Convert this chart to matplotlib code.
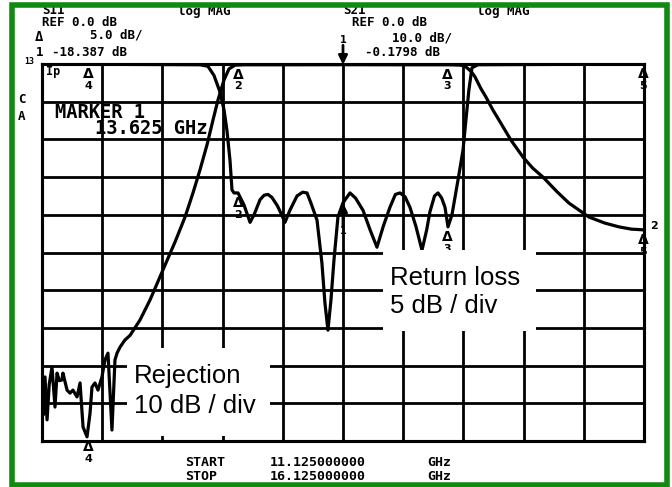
import numpy as np
import matplotlib
matplotlib.use("Agg")
import matplotlib.pyplot as plt
from matplotlib.patches import Rectangle

# ---------------- data ----------------
f_start, f_stop = 11.125, 16.125

# S21 (rejection), dB, 10 dB/div
s21_f = [11.125, 11.138, 11.150, 11.167, 11.185, 11.208, 11.233, 11.250, 11.270, 11.291,
         11.299, 11.333, 11.358, 11.382, 11.416, 11.441, 11.466, 11.499, 11.524, 11.540,
         11.565, 11.590, 11.623, 11.648, 11.673, 11.706, 11.731, 11.748, 11.773, 11.814,
         11.856, 11.939, 12.022, 12.130, 12.230, 12.313, 12.379, 12.437, 12.495, 12.545,
         12.587, 12.637, 12.678, 12.728, 12.811, 13.200, 13.625, 14.100, 14.500, 14.600,
         14.640, 14.690, 14.721, 14.770, 14.813, 14.870, 14.921, 15.020, 15.120, 15.200,
         15.286, 15.400, 15.502, 15.668, 15.800, 15.917, 16.020, 16.125]
s21_db = [-89.0, -93.0, -83.0, -94.4, -85.0, -80.4, -91.0, -82.0, -84.0, -83.8,
          -82.0, -86.5, -87.3, -86.5, -88.3, -84.6, -96.3, -98.9, -92.6, -85.7,
          -84.6, -86.5, -83.0, -78.5, -76.7, -97.1, -78.5, -76.7, -75.1, -73.2,
          -72.0, -67.9, -62.6, -54.6, -47.2, -40.6, -34.2, -28.1, -21.5, -14.9,
          -9.5, -4.2, -1.3, -0.3, -0.2, -0.2, -0.18, -0.2, -0.2, -0.3,
          -0.6, -2.0, -3.4, -6.5, -8.8, -12.2, -14.9, -20.2, -24.7, -27.6,
          -30.0, -33.8, -36.9, -40.6, -42.2, -43.2, -43.8, -44.0]

# S11 (return loss), dB, 5 dB/div
s11_f = [11.125, 12.437, 12.503, 12.553, 12.603, 12.637, 12.661, 12.686, 12.703, 12.720,
         12.753, 12.803, 12.853, 12.886, 12.936, 12.970, 13.002, 13.035, 13.080, 13.110,
         13.143, 13.184, 13.243, 13.290, 13.326, 13.360, 13.409, 13.450, 13.475, 13.500,
         13.525, 13.550, 13.583, 13.625, 13.683, 13.730, 13.791, 13.850, 13.907, 13.960,
         14.015, 14.060, 14.098, 14.140, 14.181, 14.230, 14.281, 14.320, 14.347, 14.385,
         14.414, 14.445, 14.472, 14.497, 14.530, 14.580, 14.622, 14.646, 14.671, 14.696,
         14.746, 16.125]
s11_db = [0.0, -0.1, -0.3, -1.5, -3.7, -6.1, -8.8, -12.7, -16.7, -17.1,
          -17.1, -18.7, -21.0, -20.0, -18.0, -17.4, -17.3, -17.7, -18.8, -19.8,
          -21.0, -19.4, -17.5, -17.0, -17.1, -18.5, -20.7, -26.4, -31.7, -35.3,
          -31.3, -26.0, -20.3, -18.4, -17.1, -17.8, -19.4, -22.0, -24.3, -21.5,
          -19.0, -17.3, -17.1, -17.6, -19.0, -21.5, -24.7, -22.0, -19.6, -17.5,
          -17.1, -17.8, -19.0, -21.6, -20.0, -15.4, -11.4, -7.4, -3.4, -0.5,
          -0.1, 0.0]

# markers 1..5
mk_num = ["1", "2", "3", "4", "5"]
mk_f = [13.625, 12.753, 14.490, 11.507, 16.117]
mk_s11 = [-18.4, -17.1, -21.6, 0.0, 0.0]
mk_s21 = [-0.18, -0.2, -0.2, -98.9, -44.0]

# ---------------- figure ----------------
W, H = 672, 487
fig = plt.figure(figsize=(W / 100, H / 100), dpi=100)
fig.patch.set_facecolor("white")

L, R, T, B = 42, 644, 64, 441
ax = fig.add_axes([L / W, 1 - B / H, (R - L) / W, (B - T) / H])
ax.set_xlim(f_start, f_stop)
ax.set_ylim(-100, 0)
ax.set_xticks(np.linspace(f_start, f_stop, 11))
ax.set_yticks(np.arange(-100, 1, 10))
ax.tick_params(length=0, labelbottom=False, labelleft=False)
ax.grid(True, color="black", lw=2.0)
ax.set_axisbelow(True)
for s in ax.spines.values():
    s.set_linewidth(2.2)

ax2 = ax.twinx()
ax2.set_ylim(-50, 0)
ax2.set_yticks([])
ax2.tick_params(length=0, labelright=False)
for s in ax2.spines.values():
    s.set_linewidth(2.2)

lw = 2.3
ax.plot(s21_f, s21_db, color="black", lw=lw, solid_joinstyle="round", zorder=3)
ax2.plot(s11_f, s11_db, color="black", lw=lw, solid_joinstyle="round", zorder=3)

mfont = dict(family="DejaVu Sans", weight="bold", color="black", ha="center")
arrow_kw = dict(arrowstyle="-|>", color="black", lw=2.0, mutation_scale=13,
                shrinkA=0, shrinkB=0)
# markers on S11
for n, fx, v in zip(mk_num, mk_f, mk_s11):
    if n == "1":
        ax2.annotate("", xy=(fx, v), xytext=(0, -17), textcoords="offset points",
                     xycoords="data", arrowprops=arrow_kw, zorder=4)
        ax2.annotate(n, (fx, v), xytext=(0, -17), textcoords="offset points",
                     va="top", fontsize=7, zorder=4, **mfont)
    else:
        ax2.annotate("Δ", (fx, v), xytext=(0, -2), textcoords="offset points",
                     va="top", fontsize=10, zorder=4, **mfont)
        ax2.annotate(n, (fx, v), xytext=(0, -12), textcoords="offset points",
                     va="top", fontsize=8, zorder=4, **mfont)
# markers on S21
for n, fx, v in zip(mk_num, mk_f, mk_s21):
    if n == "1":
        ax.annotate("", xy=(fx, v), xytext=(0, 14), textcoords="offset points",
                    arrowprops=arrow_kw, zorder=4, annotation_clip=False)
        ax.annotate(n, (fx, v), xytext=(0, 14), textcoords="offset points",
                    va="bottom", fontsize=7, zorder=4, annotation_clip=False, **mfont)
    else:
        ax.annotate("Δ", (fx, v), xytext=(0, -2), textcoords="offset points",
                    va="top", fontsize=10, zorder=4, **mfont)
        ax.annotate(n, (fx, v), xytext=(0, -12), textcoords="offset points",
                    va="top", fontsize=8, zorder=4, **mfont)
ax.annotate("2", (mk_f[4], mk_s21[4]), xytext=(8, 3), textcoords="offset points",
            va="center", fontsize=8, zorder=4, annotation_clip=False, **mfont)

# white label boxes
box_kw = dict(transform=ax2.transAxes, facecolor="white", edgecolor="none", zorder=5)
ax2.add_patch(Rectangle((0.566, 0.292), 0.255, 0.215, **box_kw))
ax2.add_patch(Rectangle((0.141, 0.012), 0.238, 0.235, **box_kw))
lab = dict(transform=ax2.transAxes, family="Liberation Sans", fontsize=18.5,
           color="black", va="baseline", ha="left", zorder=6)
ax2.text(0.578, 0.414, "Return loss", **lab)
ax2.text(0.578, 0.340, "5 dB / div", **lab)
ax2.text(0.153, 0.154, "Rejection", **lab)
ax2.text(0.153, 0.074, "10 dB / div", **lab)

# instrument annotations
def ft(x, y, s, size=9.0, **kw):
    fig.text(x / W, 1 - y / H, s, family="DejaVu Sans Mono", weight="bold",
             fontsize=size, va="center", ha="left", color="black", **kw)

ft(42, 11, "S11")
ft(178, 11, "log MAG")
ft(42, 23, "REF 0.0 dB")
ft(35, 37, "Δ", size=10)
ft(90, 35, "5.0 dB/")
ft(36, 52, "1")
ft(52, 52, "-18.387 dB")
ft(343, 11, "S21")
ft(477, 11, "log MAG")
ft(352, 23, "REF 0.0 dB")
ft(392, 38, "10.0 dB/")
ft(365, 53, "-0.1798 dB")
ft(24, 62, "13", size=6)
ft(46, 71, "Ip", size=8.5)
ft(18, 100, "C", size=9)
ft(18, 116, "A", size=9)
ft(55, 112, "MARKER 1", size=13.5)
ft(95, 129, "13.625 GHz", size=13.5)
ft(185, 462, "START", size=9.5)
ft(270, 462, "11.125000000", size=9.5)
ft(427, 462, "GHz", size=9.5)
ft(185, 476, "STOP", size=9.5)
ft(270, 476, "16.125000000", size=9.5)
ft(427, 476, "GHz", size=9.5)

# green border
fig.patches.append(Rectangle((12 / W, 2.5 / H), 654.5 / W, 480 / H,
                             transform=fig.transFigure, fill=False,
                             edgecolor="#118a11", lw=4, zorder=10))

fig.savefig("out.png", dpi=100)
